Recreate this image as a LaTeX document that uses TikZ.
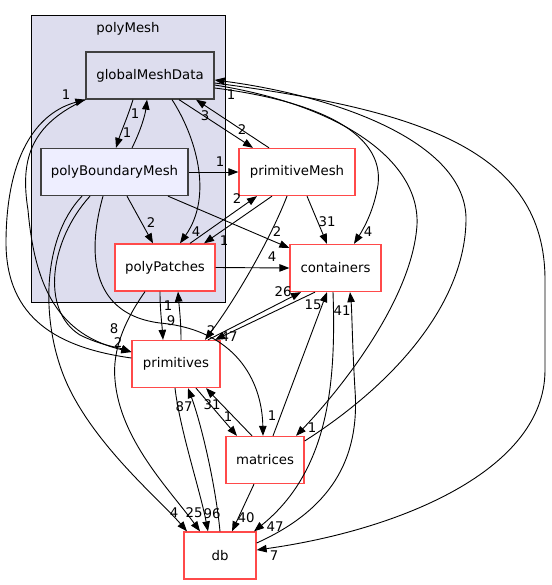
\documentclass[tikz,border=0pt]{standalone}
\usepackage{fontspec}
\setmainfont{DejaVu Sans}
\usetikzlibrary{arrows.meta}

\definecolor{clfill}{HTML}{DDDDEE}
\definecolor{pbfill}{HTML}{EEEEFF}
\definecolor{dirred}{HTML}{FF4A4A}
\definecolor{dirgray}{HTML}{404040}

\begin{document}
\begin{tikzpicture}[x=1pt,y=-1pt,
	every node/.style={font=\fontsize{13.3}{16}\selectfont},
	dir/.style={draw=dirred,fill=white,line width=1.3pt,minimum height=47pt,inner sep=0pt},
	sub/.style={draw=dirgray,line width=1.3pt,minimum height=47pt,inner sep=0pt},
	dep/.style={-{Triangle[length=10pt,width=7.5pt]},line width=0.9pt},
	num/.style={inner sep=0pt}]

\useasboundingbox (0,0) rectangle (551,585);

\draw[fill=clfill,line width=1pt] (31,16) rectangle (225,302);
\node(polymesh) at (128,29) {polyMesh};

\node[sub,fill=clfill,minimum width=128pt](gmd) at (150,75.5) {globalMeshData};
\node[sub,fill=pbfill,minimum width=147pt](pbm) at (114.5,172) {polyBoundaryMesh};
\node[dir,minimum width=116pt](pm) at (297,172) {primitiveMesh};
\node[dir,minimum width=100pt](pp) at (165,267.5) {polyPatches};
\node[dir,minimum width=91pt](cont) at (335.5,268) {containers};
\node[dir,minimum width=88pt](prim) at (176,364) {primitives};
\node[dir,minimum width=78pt](mat) at (265,460) {matrices};
\node[dir,minimum width=72pt](db) at (220,555.5) {db};

% inside polyMesh
\draw[dep] (gmd.south -| 133,0) .. controls (128,116) and (121,132) .. (pbm.north -| 116,0) node[num](l1) at (127,133) {1};
\draw[dep] (pbm.north -| 132,0) .. controls (140,132) and (145,116) .. (gmd.south -| 147,0) node[num](l2) at (135,114) {1};
\draw[dep] (gmd.south -| 172,0) .. controls (195,135) and (214,195) .. (pp.north -| 180,0) node[num](l3) at (196,232) {4};
\draw[dep] (pbm.south -| 127,0) -- (pp.north -| 153,0) node[num](l4) at (151,223) {2};

% globalMeshData out / in
\draw[dep] (gmd.south -| 179,0) -- (pm.north -| 253,0) node[num](l5) at (242,130) {2};
\draw[dep] (pm.north -| 269,0) -- (gmd.south -| 196,0) node[num](l6) at (205,116) {3};
\draw[dep] (gmd.east |- 0,88) .. controls (310,100) and (385,130) .. (378,185) .. controls (374,210) and (364,228) .. (cont.north -| 354,0) node[num](l7) at (368,232) {4};
\draw[dep] (gmd.east |- 0,85) .. controls (340,105) and (420,160) .. (417,225) .. controls (412,300) and (340,390) .. (mat.north -| 296,0) node[num](l8) at (312,428) {1};
\draw[dep] (mat.east |- 0,441) .. controls (400,380) and (465,300) .. (466,220) .. controls (467,140) and (330,95) .. (gmd.east |- 0,80) node[num](l9) at (231,95) {1};
\draw[dep] (gmd.east |- 0,83) .. controls (420,110) and (545,150) .. (545,280) -- (545,370) .. controls (545,470) and (400,530) .. (db.east |- 0,550) node[num](l10) at (274,556) {7};
\draw[dep] (gmd.south west) .. controls (30,125) and (20,160) .. (28,210) .. controls (35,290) and (60,335) .. (prim.west |- 0,352) node[num](l11) at (118,343) {2};
\draw[dep] (prim.west |- 0,358) .. controls (60,348) and (5,320) .. (6,240) .. controls (7,150) and (40,112) .. (gmd.south west) node[num](l12) at (66,95) {1};

% polyBoundaryMesh out
\draw[dep] (pbm.east) -- (pm.west) node[num](l13) at (220,162) {1};
\draw[dep] (pbm.south -| 168,0) -- (cont.west |- 0,248) node[num](l14) at (277,232) {2};
\draw[dep] (pbm.south -| 90,0) .. controls (50,240) and (40,310) .. (80,335) .. controls (100,345) and (120,348) .. (prim.west |- 0,352) node[num](l15) at (114,329) {8};
\draw[dep] (pbm.south -| 103,0) .. controls (85,260) and (95,315) .. (160,323) .. controls (235,330) and (262,380) .. (mat.north -| 263,0) node[num](l16) at (272,416) {1};
\draw[dep] (pbm.south -| 82,0) .. controls (40,240) and (40,330) .. (70,390) .. controls (100,450) and (160,500) .. (db.north -| 187,0) node[num](l17) at (174,513) {4};

% primitiveMesh / polyPatches
\draw[dep] (pp.north -| 190,0) -- (pm.south -| 257,0) node[num](l18) at (237,199) {2};
\draw[dep] (pm.south -| 272,0) -- (pp.north -| 204,0) node[num](l19) at (224,241) {1};
\draw[dep] (pm.south -| 307,0) -- (cont.north -| 327,0) node[num](l20) at (327,222) {31};
\draw[dep] (pm.south -| 287,0) .. controls (270,240) and (235,300) .. (prim.north -| 205,0) node[num](l21) at (211,331) {2};
\draw[dep] (pp.east) -- (cont.west) node[num](l22) at (272,257) {4};
\draw[dep] (prim.north -| 181,0) .. controls (181,320) and (179,305) .. (pp.south -| 178,0) node[num](l23) at (168,306) {1};
\draw[dep] (pp.south -| 160,0) .. controls (160,310) and (162,325) .. (prim.north -| 163,0) node[num](l24) at (171,321) {9};
\draw[dep] (pp.south -| 145,0) .. controls (125,320) and (112,350) .. (115,380) .. controls (120,440) and (170,490) .. (db.north -| 200,0) node[num](l25) at (194,513) {25};

% containers
\draw[dep] (cont.south -| 315,0) -- (prim.north -| 215,0) node[num](l26) at (229,337) {47};
\draw[dep] (prim.north -| 208,0) -- (cont.south -| 301,0) node[num](l27) at (283,292) {26};
\draw[dep] (cont.south -| 333,0) .. controls (336,380) and (330,470) .. (db.north -| 254,0) node[num](l28) at (275,527) {47};
\draw[dep] (db.east |- 0,543) .. controls (330,510) and (360,460) .. (355,390) .. controls (352,340) and (352,310) .. (cont.south -| 350,0) node[num](l29) at (342,311) {41};

% primitives / matrices / db
\draw[dep] (prim.south -| 175,0) .. controls (180,430) and (200,490) .. (db.north -| 208,0) node[num](l30) at (212,514) {96};
\draw[dep] (db.north -| 220,0) .. controls (215,480) and (200,420) .. (prim.south -| 188,0) node[num](l31) at (184,407) {87};
\draw[dep] (prim.south -| 196,0) -- (mat.north -| 237,0) node[num](l32) at (228,417) {1};
\draw[dep] (mat.north -| 252,0) -- (prim.south -| 206,0) node[num](l33) at (212,405) {31};
\draw[dep] (mat.north -| 273,0) -- (cont.south -| 327,0) node[num](l34) at (313,305) {15};
\draw[dep] (mat.south -| 254,0) -- (db.north -| 232,0) node[num](l35) at (246,518) {40};

\end{tikzpicture}
\end{document}
